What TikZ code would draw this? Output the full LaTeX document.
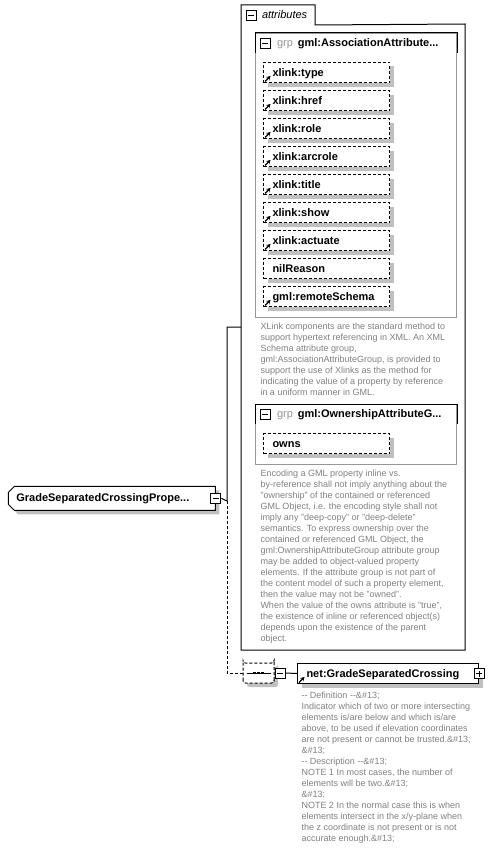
\documentclass[tikz,border=0pt]{standalone}
\usepackage{fontspec}
\setmainfont{Liberation Sans}
\usetikzlibrary{shapes.misc,shadows,positioning,arrows.meta}
\definecolor{shadowgray}{RGB}{192,192,192}
\definecolor{framegray}{RGB}{150,150,150}
\definecolor{descgray}{RGB}{128,128,128}
\definecolor{grpgray}{RGB}{150,150,150}
\tikzstyle{boxshadow}=[drop shadow={shadow xshift=4pt,shadow yshift=-4pt,fill=shadowgray,draw=none,opacity=1}]
\tikzstyle{minus}=[rectangle,draw=black,fill=white,inner sep=0pt,minimum size=10pt,
  path picture={\draw ([xshift=2pt]path picture bounding box.west) -- ([xshift=-2pt]path picture bounding box.east);}]
\tikzstyle{plus}=[rectangle,draw=black,fill=white,inner sep=0pt,minimum size=10pt,
  path picture={\draw ([xshift=2pt]path picture bounding box.west) -- ([xshift=-2pt]path picture bounding box.east);
                \draw ([yshift=2pt]path picture bounding box.south) -- ([yshift=-2pt]path picture bounding box.north);}]
\tikzstyle{frame}=[rectangle,draw=none,inner sep=0pt,anchor=north west]
\tikzstyle{grpbody}=[rectangle,draw=framegray,fill=white,inner sep=0pt,anchor=north west,minimum width=201pt]
\tikzstyle{grptitle}=[anchor=west,inner sep=0pt,text height=8pt,text depth=2pt,font=\fontsize{11}{13}\selectfont]
\tikzstyle{attr}=[rectangle,draw=black,dash pattern=on 3pt off 2pt,fill=white,boxshadow,anchor=north west,
  minimum width=126pt,minimum height=20pt,inner xsep=9pt,text width=108pt,align=left,
  text height=8pt,text depth=1pt,font=\fontsize{11}{13}\selectfont\bfseries]
\tikzstyle{topelem}=[chamfered rectangle,chamfered rectangle corners={north west,south west},
  chamfered rectangle xsep=3pt,chamfered rectangle ysep=3pt,draw=black,fill=white,boxshadow,anchor=north west,
  minimum width=201pt,minimum height=24pt,inner xsep=5pt,text width=191pt,align=left,
  text height=8pt,text depth=1pt,font=\fontsize{11}{13}\selectfont\bfseries]
\tikzstyle{elem}=[rectangle,draw=black,fill=white,boxshadow,anchor=north west,
  minimum width=181pt,minimum height=20pt,inner xsep=9pt,text width=163pt,align=left,
  text height=8pt,text depth=1pt,font=\fontsize{11}{13}\selectfont\bfseries]
\tikzstyle{seqbox}=[chamfered rectangle,chamfered rectangle xsep=5pt,chamfered rectangle ysep=4pt,rounded corners=2.5pt,
  draw=black,dash pattern=on 3pt off 2pt,fill=white,boxshadow,minimum width=31pt,minimum height=20pt,inner sep=0pt]
\tikzstyle{desc}=[anchor=north west,inner sep=0pt,align=left,text=descgray,font=\fontsize{9}{11}\selectfont]
\tikzstyle{link}=[draw=black]
\newcommand{\refmark}[1]{\draw[-{Stealth[length=4pt,width=4.5pt]},line width=1.2pt] ([shift={(2pt,1.5pt)}]#1.south west) -- ++(5.5pt,5.5pt);}

\begin{document}
\begin{tikzpicture}[x=1pt,y=-1pt,line width=1pt]
    \useasboundingbox (0,0) rectangle (492,859);

    % Rahmen attributes
    \node[frame,minimum width=73pt,minimum height=19pt] (attrtab) at (241,5) {};
    \node[frame,minimum width=223pt,minimum height=625pt] (attrbox) at (241,24) {};
    \draw (attrtab.south west) -- (attrtab.north west) -- (attrtab.north east) -- (attrtab.south east)
      -- (attrbox.north east) -- (attrbox.south east) -- (attrbox.south west) -- cycle;
    \node[minus] (tglattr) at (251,15.5) {};
    \node[grptitle,font=\fontsize{11}{13}\selectfont\itshape] (attrlabel) [right=5pt of tglattr] {attributes};

    % Gruppe AssociationAttributeGroup
    \node[grpbody,minimum height=284pt] (assocbody) at (255,33) {};
    \node[frame,minimum width=201pt,minimum height=19pt] (assochdr) at (255,33) {};
    \draw (assochdr.south west) -- (assochdr.north west) -- (assochdr.north east) -- (assochdr.south east);
    \node[minus] (tglassoc) at (265,43.5) {};
    \node[grptitle] (assoctitle) [right=6pt of tglassoc] {\textcolor{grpgray}{grp}\hspace{5pt}\textbf{gml:AssociationAttribute...}};

    \node[attr] (xtype) at (263,62) {xlink:type};
    \node[attr] (xhref) [below=7pt of xtype] {xlink:href};
    \node[attr] (xrole) [below=7pt of xhref] {xlink:role};
    \node[attr] (xarcrole) [below=7pt of xrole] {xlink:arcrole};
    \node[attr] (xtitle) [below=7pt of xarcrole] {xlink:title};
    \node[attr] (xshow) [below=7pt of xtitle] {xlink:show};
    \node[attr] (xactuate) [below=7pt of xshow] {xlink:actuate};
    \node[attr] (nilreason) [below=7pt of xactuate] {nilReason};
    \node[attr] (remoteschema) [below=7pt of nilreason] {gml:remoteSchema};
    \refmark{xtype} \refmark{xhref} \refmark{xrole} \refmark{xarcrole}
    \refmark{xtitle} \refmark{xshow} \refmark{xactuate} \refmark{remoteschema}

    \node[desc] (assocdesc) at (260,322) {XLink components are the standard method to\\
      support hypertext referencing in XML. An XML\\
      Schema attribute group,\\
      gml:AssociationAttributeGroup, is provided to\\
      support the use of Xlinks as the method for\\
      indicating the value of a property by reference\\
      in a uniform manner in GML.};

    % Gruppe OwnershipAttributeGroup
    \node[grpbody,minimum height=60pt] (ownbody) at (255,404) {};
    \node[frame,minimum width=201pt,minimum height=19pt] (ownhdr) at (255,404) {};
    \draw (ownhdr.south west) -- (ownhdr.north west) -- (ownhdr.north east) -- (ownhdr.south east);
    \node[minus] (tglown) at (265,414.5) {};
    \node[grptitle] (owntitle) [right=6pt of tglown] {\textcolor{grpgray}{grp}\hspace{5pt}\textbf{gml:OwnershipAttributeG...}};
    \node[attr] (owns) at (263,433) {owns};

    \node[desc] (owndesc) at (260,469.5) {Encoding a GML property inline vs.\\
      by-reference shall not imply anything about the\\
      "ownership" of the contained or referenced\\
      GML Object, i.e. the encoding style shall not\\
      imply any "deep-copy" or "deep-delete"\\
      semantics. To express ownership over the\\
      contained or referenced GML Object, the\\
      gml:OwnershipAttributeGroup attribute group\\
      may be added to object-valued property\\
      elements. If the attribute group is not part of\\
      the content model of such a property element,\\
      then the value may not be "owned".\\
      When the value of the owns attribute is "true",\\
      the existence of inline or referenced object(s)\\
      depends upon the existence of the parent\\
      object.};

    % Element und Sequenz
    \node[topelem] (prop) at (11,489) {GradeSeparatedCrossingPrope...};
    \node[minus] (tglprop) at (prop.east) {};
    \coordinate (branch) at (227,501);
    \coordinate (attrin) at (241,327);

    \node[seqbox] (seq) at (258.5,673) {};
    \draw ([xshift=4pt]seq.west) -- ([xshift=-4pt]seq.east);
    \fill ([shift={(-5.2pt,-1.2pt)}]seq.center) rectangle ++(2.4pt,2.4pt);
    \fill ([shift={(-1.2pt,-1.2pt)}]seq.center) rectangle ++(2.4pt,2.4pt);
    \fill ([shift={(2.8pt,-1.2pt)}]seq.center) rectangle ++(2.4pt,2.4pt);
    \node[minus] (tglseq) at (280,673) {};

    \node[elem] (cross) at (297,663) {net:GradeSeparatedCrossing};
    \node[plus] (tglcross) at (cross.east) {};
    \refmark{cross}

    % Verbindungen
    \draw [link] (tglprop.east) -- (branch) |- (attrin);
    \draw [link,dash pattern=on 3pt off 2pt] (branch) |- (seq.west);
    \draw [link] (tglseq.east) -- (cross.west);

    \node[desc] (crossdesc) at (301,691) {-{}- Definition -{}-\&\#13;\\
      Indicator which of two or more intersecting\\
      elements is/are below and which is/are\\
      above, to be used if elevation coordinates\\
      are not present or cannot be trusted.\&\#13;\\
      \&\#13;\\
      -{}- Description -{}-\&\#13;\\
      NOTE 1 In most cases, the number of\\
      elements will be two.\&\#13;\\
      \&\#13;\\
      NOTE 2 In the normal case this is when\\
      elements intersect in the x/y-plane when\\
      the z coordinate is not present or is not\\
      accurate enough.\&\#13;};

\end{tikzpicture}
\end{document}
